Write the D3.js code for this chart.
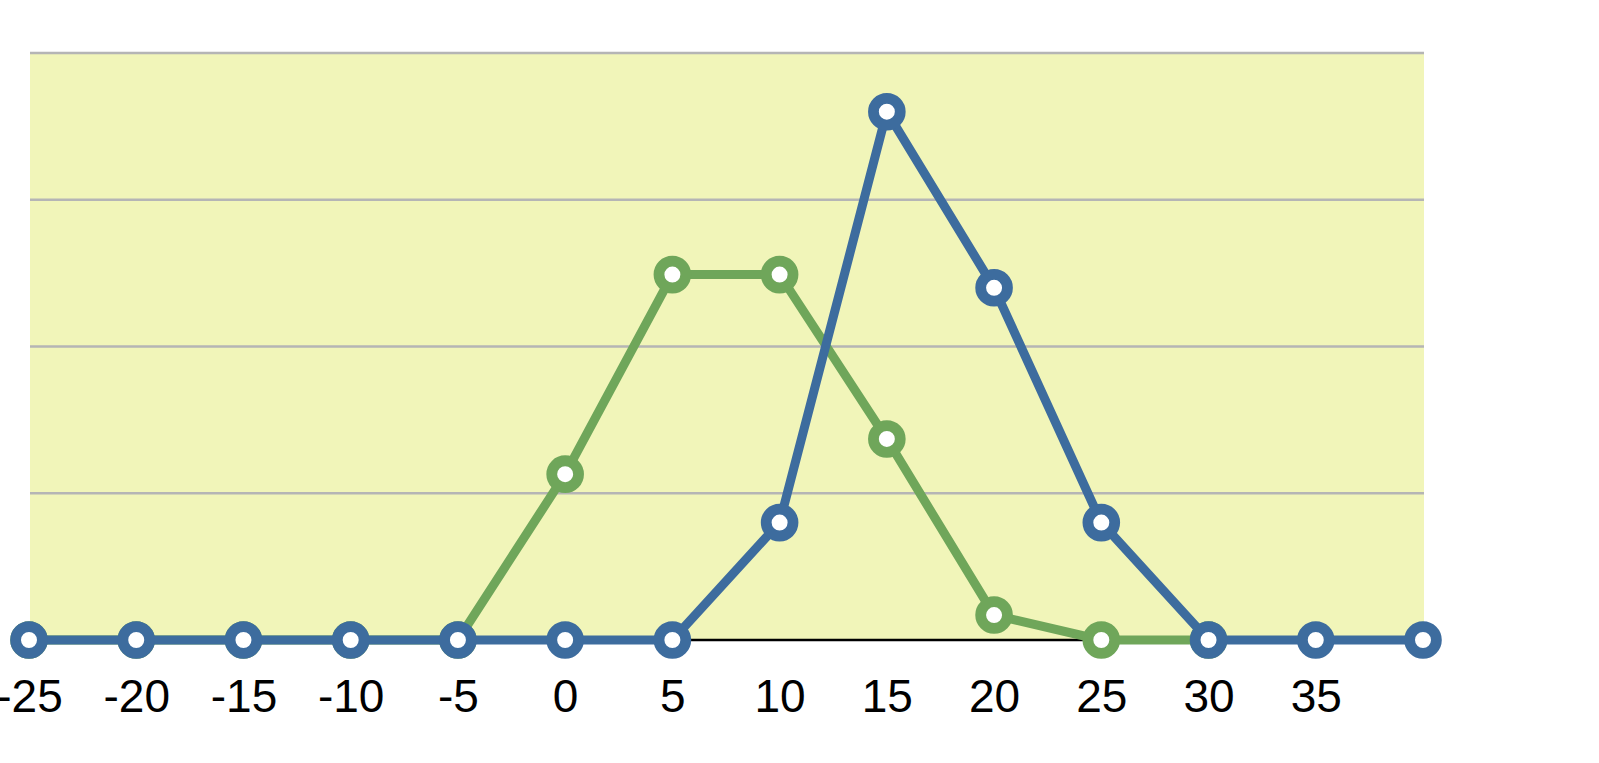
<!DOCTYPE html>
<html>
<head>
<meta charset="utf-8">
<script src="https://cdn.jsdelivr.net/npm/d3@7"></script>
<style>
  body { margin: 0; background: #fff; }
  svg { display: block; }
</style>
</head>
<body>
<div id="chart"></div>
<script>
// categories along the x axis (last slot has no label)
const categories = ["-25", "-20", "-15", "-10", "-5", "0", "5", "10", "15", "20", "25", "30", "35", ""];
const blueValues = [0, 0, 0, 0, 0, 0, 0, 4, 18, 12, 4, 0, 0, 0];
const greenValues = [0, 0, 0, 0, 0, 5.65, 12.45, 12.45, 6.85, 0.85, 0, 0];
const gridTicks = [0, 5, 10, 15, 20];

const width = 1599, height = 763;
const plot = { left: 30, right: 1424, top: 53, bottom: 640 };

const svg = d3.select("#chart")
    .append("svg")
    .attr("width", width)
    .attr("height", height);

const x = d3.scalePoint()
    .domain(d3.range(categories.length))
    .range([29, 1423]);

const y = d3.scaleLinear()
    .domain([0, 20])
    .range([plot.bottom, plot.top]);

// plot background
svg.append("rect")
    .attr("x", plot.left).attr("y", plot.top)
    .attr("width", plot.right - plot.left)
    .attr("height", plot.bottom - plot.top)
    .attr("fill", "#f1f5b9");

// horizontal gridlines
svg.append("g")
    .selectAll("line")
    .data(gridTicks.filter(d => d > 0))
    .join("line")
    .attr("x1", plot.left).attr("x2", plot.right)
    .attr("y1", d => y(d)).attr("y2", d => y(d))
    .attr("stroke", "#b5b5b5")
    .attr("stroke-width", 2.5);

// x axis
const xAxis = svg.append("g")
    .attr("transform", `translate(0,${plot.bottom})`)
    .call(d3.axisBottom(x).tickSize(0).tickPadding(39).tickFormat(i => categories[i]));
xAxis.select(".domain")
    .attr("d", `M${plot.left},0H${plot.right}`)
    .attr("stroke", "#000")
    .attr("stroke-width", 2.5);
xAxis.selectAll("text")
    .attr("fill", "#000")
    .style("font-family", "'Liberation Sans', Arial, Helvetica, sans-serif")
    .style("font-size", "46px");

function drawSeries(values, color) {
    const line = d3.line()
        .x((d, i) => x(i))
        .y(d => y(d));
    svg.append("path")
        .datum(values)
        .attr("fill", "none")
        .attr("stroke", color)
        .attr("stroke-width", 9)
        .attr("stroke-linejoin", "round")
        .attr("d", line);
    svg.append("g")
        .selectAll("circle")
        .data(values)
        .join("circle")
        .attr("cx", (d, i) => x(i))
        .attr("cy", d => y(d))
        .attr("r", 13.4)
        .attr("fill", "#fff")
        .attr("stroke", color)
        .attr("stroke-width", 10.8);
}

drawSeries(greenValues, "#6fa65a");
drawSeries(blueValues, "#3d6c9e");
</script>
</body>
</html>
